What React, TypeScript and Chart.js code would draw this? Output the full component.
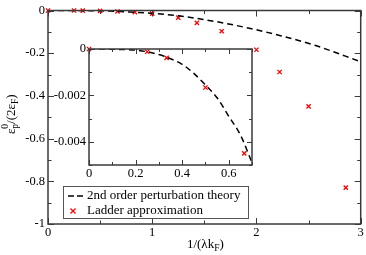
import React, { useEffect, useRef } from "react";
import { Chart, registerables } from "chart.js";

Chart.register(...registerables);

// ---- data ----
const ladderX = [0, 0.25, 0.3333, 0.5, 0.6667, 0.8333, 1.0, 1.25, 1.4286, 1.6667, 2.0, 2.2222, 2.5, 2.8571];
const ladderY = [0, -0.00012, -0.00038, -0.00166, -0.0045, -0.008, -0.015, -0.033, -0.058, -0.097, -0.184, -0.288, -0.449, -0.83];

const pertX = [0, 0.1, 0.2, 0.25, 0.3, 0.35, 0.4, 0.45, 0.5, 0.55, 0.6, 0.65, 0.7, 0.75, 1.0, 1.25, 1.6, 1.93, 2.24, 2.56, 3.0];
const pertY = [0, -0.00001, -0.00005, -0.00012, -0.00024, -0.00042, -0.00066, -0.00105, -0.00155, -0.0021, -0.0029, -0.0037, -0.0049, -0.0061, -0.0135, -0.025, -0.051, -0.083, -0.119, -0.163, -0.24];

const mainXTicks = [0, 1, 2, 3];
const mainXMinor = [0.5, 1.5, 2.5];
const mainYTicks = [0, -0.2, -0.4, -0.6, -0.8, -1];
const mainYMinor = [-0.1, -0.3, -0.5, -0.7, -0.9];

const insetXTicks = [0, 0.2, 0.4, 0.6];
const insetXMinor = [0.1, 0.3, 0.5, 0.7];
const insetYTicks = [0, -0.002, -0.004];
const insetYMinor = [-0.001, -0.003, -0.005];

const legendLabels = ["2nd order perturbation theory", "Ladder approximation"];

const FONT = "'Liberation Serif', 'DejaVu Serif', serif";
const AXIS = "#3a3a3a";
const RED = "#ff0000";

const toPts = (xs: number[], ys: number[]) => xs.map((x, i) => ({ x, y: ys[i] }));

function framePlugin(id: string, xMaj: number[], xMin: number[], yMaj: number[], yMin: number[], majLen: number, minLen: number) {
  return {
    id,
    afterDatasetsDraw(chart: any) {
      const { ctx, chartArea, scales } = chart;
      const { left, right, top, bottom } = chartArea;
      const xs = scales.x, ys = scales.y;
      ctx.save();
      ctx.strokeStyle = AXIS;
      ctx.lineWidth = 1;
      const vt = (v: number, len: number) => {
        const p = Math.round(xs.getPixelForValue(v)) + 0.5;
        ctx.beginPath();
        ctx.moveTo(p, bottom); ctx.lineTo(p, bottom - len);
        ctx.moveTo(p, top); ctx.lineTo(p, top + len);
        ctx.stroke();
      };
      const ht = (v: number, len: number) => {
        const p = Math.round(ys.getPixelForValue(v)) + 0.5;
        ctx.beginPath();
        ctx.moveTo(left, p); ctx.lineTo(left + len, p);
        ctx.moveTo(right, p); ctx.lineTo(right - len, p);
        ctx.stroke();
      };
      xMaj.forEach((v) => vt(v, majLen));
      xMin.forEach((v) => vt(v, minLen));
      yMaj.forEach((v) => ht(v, majLen));
      yMin.forEach((v) => ht(v, minLen));
      ctx.lineWidth = 1.5;
      ctx.strokeRect(left, top, right - left, bottom - top);
      ctx.restore();
    },
  };
}

const titlesPlugin = {
  id: "titles",
  afterDraw(chart: any) {
    const { ctx, chartArea } = chart;
    ctx.save();
    ctx.fillStyle = "#000";
    ctx.textBaseline = "alphabetic";
    ctx.textAlign = "left";
    const big = `13px ${FONT}`;
    const small = `9.5px ${FONT}`;
    // x title: 1/(λk_F)
    const xParts: [string, string, number][] = [["1/(λk", big, 0], ["F", small, 3], [")", big, 0]];
    let w = 0;
    xParts.forEach(([t, f]) => { ctx.font = f; w += ctx.measureText(t).width; });
    let cx = (chartArea.left + chartArea.right) / 2 - w / 2 + 1;
    const by = 248;
    xParts.forEach(([t, f, dy]) => { ctx.font = f; ctx.fillText(t, cx, by + dy); cx += ctx.measureText(t).width; });

    // y title: ε_p^0/(2ε_F)
    ctx.save();
    const cy = (chartArea.top + chartArea.bottom) / 2 - 3;
    ctx.translate(15, cy);
    ctx.rotate(-Math.PI / 2);
    ctx.font = big;
    const wEps = ctx.measureText("ε").width;
    ctx.font = small;
    const wSub = Math.max(ctx.measureText("p").width, ctx.measureText("0").width);
    ctx.font = big;
    const wRest = ctx.measureText("/(2ε").width;
    ctx.font = small;
    const wF = ctx.measureText("F").width;
    ctx.font = big;
    const wClose = ctx.measureText(")").width;
    const total = wEps + wSub + wRest + wF + wClose;
    let x = -total / 2;
    ctx.font = big; ctx.fillText("ε", x, 0); x += wEps;
    ctx.font = small; ctx.fillText("p", x, 3); ctx.fillText("0", x, -7); x += wSub;
    ctx.font = big; ctx.fillText("/(2ε", x, 0); x += wRest;
    ctx.font = small; ctx.fillText("F", x, 3); x += wF;
    ctx.font = big; ctx.fillText(")", x, 0);
    ctx.restore();

    // legend
    const lx = 63.5, ly = 186.5, lw = 185, lh = 32;
    ctx.fillStyle = "#fff";
    ctx.fillRect(lx, ly, lw, lh);
    ctx.strokeStyle = "#555";
    ctx.lineWidth = 1;
    ctx.strokeRect(lx, ly, lw, lh);
    // row 1: dashed sample
    ctx.strokeStyle = "#000";
    ctx.lineWidth = 1.5;
    ctx.setLineDash([6, 3]);
    ctx.beginPath();
    ctx.moveTo(68, 196); ctx.lineTo(83, 196);
    ctx.stroke();
    ctx.setLineDash([]);
    // row 2: red cross
    ctx.strokeStyle = RED;
    ctx.lineWidth = 1.3;
    const mx = 73, my = 211, r = 2.5;
    ctx.beginPath();
    ctx.moveTo(mx - r, my - r); ctx.lineTo(mx + r, my + r);
    ctx.moveTo(mx + r, my - r); ctx.lineTo(mx - r, my + r);
    ctx.stroke();
    ctx.fillStyle = "#000";
    ctx.font = big;
    ctx.textBaseline = "middle";
    ctx.fillText(legendLabels[0], 87, 196);
    ctx.fillText(legendLabels[1], 87, 211);
    ctx.restore();
  },
};

function makeScales(xmin: number, xmax: number, ymin: number, ymax: number, xt: number[], yt: number[], yWidth: number, xHeight: number) {
  const font = { family: FONT, size: 12.5 };
  return {
    x: {
      type: "linear",
      min: xmin,
      max: xmax,
      grid: { display: false, drawTicks: false, tickLength: 0 },
      border: { display: false },
      afterBuildTicks: (s: any) => { s.ticks = xt.map((v) => ({ value: v })); },
      afterFit: (s: any) => { s.height = xHeight; },
      ticks: { font, color: "#000", padding: 1, maxRotation: 0, autoSkip: false, callback: (v: any) => String(v) },
    },
    y: {
      type: "linear",
      min: ymin,
      max: ymax,
      grid: { display: false, drawTicks: false, tickLength: 0 },
      border: { display: false },
      afterBuildTicks: (s: any) => { s.ticks = yt.map((v) => ({ value: v })); },
      afterFit: (s: any) => { s.width = yWidth; },
      ticks: { font, color: "#000", padding: 3, autoSkip: false, callback: (v: any) => String(v) },
    },
  };
}

function datasets(clip: any) {
  return [
    {
      type: "scatter",
      data: toPts(pertX, pertY),
      showLine: true,
      borderColor: "#000",
      borderWidth: 1.5,
      borderDash: [6, 4],
      pointRadius: 0,
      cubicInterpolationMode: "monotone",
      fill: false,
    },
    {
      type: "scatter",
      data: toPts(ladderX, ladderY),
      showLine: false,
      pointStyle: "crossRot",
      pointRadius: 3,
      borderColor: RED,
      backgroundColor: RED,
      borderWidth: 1.3,
      clip,
    },
  ];
}

export default function App() {
  const mainRef = useRef<HTMLCanvasElement>(null);
  const insetRef = useRef<HTMLCanvasElement>(null);

  useEffect(() => {
    document.body.style.margin = "0";
    const main = new Chart(mainRef.current as HTMLCanvasElement, {
      type: "scatter",
      data: { datasets: datasets(false) as any },
      options: {
        responsive: false,
        animation: false,
        events: [],
        layout: { padding: { left: 0, top: 5, right: 4, bottom: 0 } },
        plugins: { legend: { display: false }, tooltip: { enabled: false } },
        scales: makeScales(0, 3, -1, 0, mainXTicks, mainYTicks, 48, 31) as any,
      },
      plugins: [framePlugin("mainFrame", mainXTicks, mainXMinor, mainYTicks, mainYMinor, 6, 3.5), titlesPlugin],
    });
    const inset = new Chart(insetRef.current as HTMLCanvasElement, {
      type: "scatter",
      data: { datasets: datasets({ left: 5, top: 5, right: 0, bottom: 0 }) as any },
      options: {
        responsive: false,
        animation: false,
        events: [],
        layout: { padding: { left: 0, top: 49, right: 114, bottom: 0 } },
        plugins: { legend: { display: false }, tooltip: { enabled: false } },
        scales: makeScales(0, 0.7, -0.005, 0, insetXTicks, insetYTicks, 89, 90) as any,
      },
      plugins: [framePlugin("insetFrame", insetXTicks, insetXMinor, insetYTicks, insetYMinor, 5, 3)],
    });
    return () => {
      main.destroy();
      inset.destroy();
    };
  }, []);

  return (
    <div style={{ position: "relative", width: 366, height: 255, background: "#fff" }}>
      <canvas ref={mainRef} width={366} height={255} style={{ position: "absolute", left: 0, top: 0, display: "block" }} />
      <canvas ref={insetRef} width={366} height={255} style={{ position: "absolute", left: 0, top: 0, display: "block" }} />
    </div>
  );
}
